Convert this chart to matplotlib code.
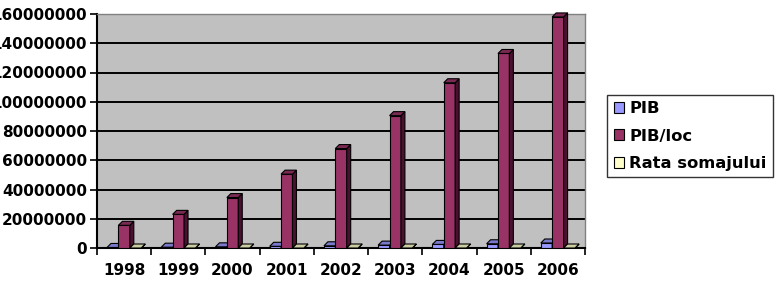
import numpy as np
import matplotlib
matplotlib.use('Agg')
import matplotlib.pyplot as plt
from matplotlib.patches import Patch, Polygon

years = ['1998', '1999', '2000', '2001', '2002', '2003', '2004', '2005', '2006']
pib = [370000, 550000, 800000, 1170000, 1510000, 1970000, 2460000, 2890000, 3420000]
pib_loc = [15500000, 23000000, 34500000, 50500000, 68000000, 90500000, 113000000, 133000000, 158000000]
rata_somajului = [10.4, 11.8, 10.5, 8.8, 8.4, 7.4, 6.3, 5.9, 5.2]

series_names = ['PIB', 'PIB/loc', 'Rata somajului']
face_colors = ['#9999FF', '#993366', '#FFFFCC']
side_colors = ['#4C4C80', '#4A1030', '#8A8A6E']
top_colors = ['#7A7ACC', '#7A2952', '#CCCCA3']

plt.rcParams['font.family'] = ['DejaVu Sans']
plt.rcParams['font.weight'] = 'bold'

fig = plt.figure(figsize=(7.83, 2.86), dpi=100)
ax = fig.add_axes([97 / 783, 38 / 286, 488 / 783, 234 / 286])
ax.set_facecolor('#C0C0C0')
ax.set_xlim(-0.5, len(years) - 0.5)
ax.set_ylim(0, 160000000)

yt = np.arange(0, 160000001, 20000000)
ax.set_yticks(yt)
ax.set_yticklabels([str(v) for v in yt], fontsize=11, fontweight='bold')
for v in yt[1:]:
    ax.axhline(v, color='black', lw=1.4, zorder=1)

x = np.arange(len(years))
ax.set_xticks(x)
ax.set_xticklabels(years, fontsize=11, fontweight='bold')
ax.set_xticks(np.arange(-0.5, len(years)), minor=True)
ax.tick_params(axis='x', which='major', length=0, pad=11)
ax.tick_params(axis='x', which='minor', length=5, width=1.2, direction='out')
ax.tick_params(axis='y', length=5, width=1.2, direction='out', pad=2)

for s in ['top', 'right']:
    ax.spines[s].set_color('#808080')
    ax.spines[s].set_linewidth(1.0)
ax.spines['left'].set_linewidth(1.5)
ax.spines['bottom'].set_linewidth(1.5)


def shift(px, py, ox, oy):
    p = ax.transData.transform((px, py)) + np.array([ox, oy])
    return ax.transData.inverted().transform(p)


width = 0.21
offsets = [-0.21, 0.0, 0.21]
depth = 4
all_vals = [pib, pib_loc, rata_somajului]
for k, vals in enumerate(all_vals):
    for i, v in enumerate(vals):
        x0 = x[i] + offsets[k] - width / 2
        x1 = x0 + width
        ax.bar(x0, v, width=width, align='edge', color=face_colors[k],
               edgecolor='black', lw=0.8, zorder=3)
        side = [(x1, 0), (x1, v), tuple(shift(x1, v, depth, depth)), tuple(shift(x1, 0, depth, depth))]
        top = [(x0, v), (x1, v), tuple(shift(x1, v, depth, depth)), tuple(shift(x0, v, depth, depth))]
        ax.add_patch(Polygon(side, closed=True, facecolor=side_colors[k],
                             edgecolor='black', lw=0.8, zorder=3, clip_on=False))
        ax.add_patch(Polygon(top, closed=True, facecolor=top_colors[k],
                             edgecolor='black', lw=0.8, zorder=3, clip_on=False))

handles = [Patch(facecolor=face_colors[k], edgecolor='black', lw=0.8) for k in range(3)]
leg = fig.legend(handles, series_names, loc='center left',
                 bbox_to_anchor=(607 / 783, (286 - 136) / 286),
                 prop={'weight': 'bold', 'size': 11.8},
                 handlelength=0.65, handleheight=0.65, handletextpad=0.3,
                 labelspacing=0.75, borderpad=0.4, borderaxespad=0,
                 fancybox=False, frameon=True)
leg.get_frame().set_edgecolor('black')
leg.get_frame().set_linewidth(1.0)

fig.savefig('out.png', dpi=100)
